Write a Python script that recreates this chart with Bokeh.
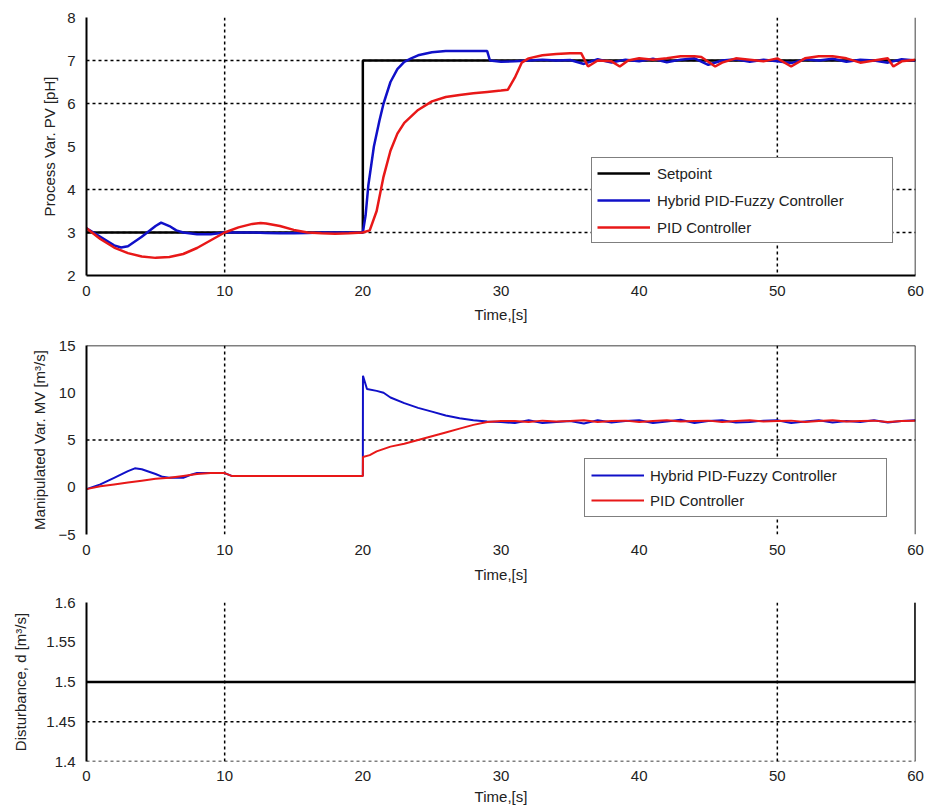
from bokeh.plotting import figure
from bokeh.models import Range1d, Span, Legend, LegendItem, FixedTicker
from bokeh.layouts import column
from bokeh.embed import file_html
from bokeh.resources import INLINE

# ---------------- data ----------------
x_ticks = [0, 10, 20, 30, 40, 50, 60]

# Process variable (pH)
sp_t = [0, 20, 20, 60]
sp_y = [3, 3, 7, 7]

pv_hyb_t = [0, 1, 2, 2.5, 3, 4, 5, 5.4, 6, 6.5, 7, 8, 9, 10, 11, 12, 13, 14, 15, 16, 17, 18, 19, 20,
            20.2, 20.4, 20.8, 21.2, 21.5, 22, 22.5, 23, 23.5, 24, 25, 26, 27, 28, 29, 29.2,
            30, 31, 32, 33, 34, 35, 36, 37, 38, 39, 40, 41, 42, 43, 44, 45, 46, 47, 48, 49, 50,
            51, 52, 53, 54, 55, 56, 57, 58, 59, 60]
pv_hyb_y = [3.1, 2.9, 2.7, 2.65, 2.68, 2.9, 3.15, 3.23, 3.15, 3.05, 3.0, 2.96, 2.96, 3.0, 3.0, 3.0, 2.99, 2.98, 2.98, 2.99, 3.0, 3.0, 3.0, 3.0,
            3.4, 4.1, 5.0, 5.6, 6.0, 6.5, 6.8, 6.97, 7.05, 7.12, 7.19, 7.22, 7.22, 7.22, 7.22, 7.0,
            6.97, 6.98, 7.0, 7.02, 7.0, 7.01, 6.92, 7.03, 6.95, 7.02, 6.98, 7.04, 6.96, 7.02, 7.05, 6.9, 7.0, 7.03, 6.97, 7.02, 6.98,
            6.94, 7.03, 7.0, 7.04, 6.97, 7.02, 7.0, 6.95, 7.03, 7.0]

pv_pid_t = [0, 1, 2, 3, 4, 5, 6, 7, 8, 9, 10, 11, 12, 12.6, 13, 14, 15, 16, 17, 18, 19, 20,
            20.5, 21, 21.5, 22, 22.5, 23, 24, 25, 26, 27, 28, 29, 30, 30.5, 31, 31.5,
            32, 33, 34, 35, 35.8, 36.3, 37, 38, 38.6, 39.2, 40, 41, 42, 43, 44, 44.5, 45.5, 46, 47, 48, 49, 50,
            51, 52, 53, 54, 55, 56, 57, 58, 58.4, 59, 60]
pv_pid_y = [3.1, 2.85, 2.65, 2.52, 2.44, 2.41, 2.43, 2.5, 2.64, 2.82, 3.0, 3.12, 3.2, 3.22, 3.21, 3.15, 3.06, 3.0, 2.98, 2.97, 2.98, 3.0,
            3.05, 3.5, 4.3, 4.9, 5.3, 5.55, 5.85, 6.05, 6.15, 6.2, 6.24, 6.27, 6.3, 6.32, 6.6, 6.95,
            7.05, 7.12, 7.15, 7.17, 7.17, 6.86, 7.0, 6.98, 6.86, 7.0, 7.05, 7.02, 7.05, 7.1, 7.1, 7.08, 6.86, 6.95, 7.05, 7.02, 6.98, 7.05,
            6.86, 7.05, 7.1, 7.1, 7.05, 6.95, 7.0, 7.05, 6.86, 6.98, 7.02]

# Manipulated variable (m^3/s)
mv_hyb_t = [0, 1, 2, 3, 3.5, 4, 5, 5.5, 6, 7, 7.5, 8, 9, 10, 10.5, 11, 12, 14, 16, 18, 20,
            20.01, 20.3, 21, 21.5, 22, 23, 24, 25, 26, 27, 28, 29, 30,
            31, 32, 33, 34, 35, 36, 37, 38, 39, 40, 41, 42, 43, 44, 45, 46, 47, 48, 49, 50,
            51, 52, 53, 54, 55, 56, 57, 58, 59, 60]
mv_hyb_y = [-0.2, 0.3, 1.0, 1.7, 2.0, 1.9, 1.4, 1.1, 1.0, 1.0, 1.3, 1.5, 1.5, 1.5, 1.2, 1.2, 1.2, 1.2, 1.2, 1.2, 1.2,
            11.8, 10.4, 10.2, 10.0, 9.5, 8.9, 8.4, 8.0, 7.6, 7.3, 7.1, 6.95, 6.9,
            6.8, 7.1, 6.8, 6.9, 7.0, 6.75, 7.1, 6.85, 7.0, 7.1, 6.8, 6.95, 7.15, 6.8, 7.0, 7.1, 6.85, 6.9, 7.05, 7.1,
            6.8, 6.95, 7.1, 6.85, 7.0, 6.9, 7.1, 6.85, 7.0, 7.1]

mv_pid_t = [0, 1, 2, 3, 4, 5, 6, 7, 8, 9, 10, 10.5, 11, 12, 14, 16, 18, 20,
            20.01, 20.5, 21, 22, 23, 24, 25, 26, 27, 28, 29, 30,
            31, 32, 33, 34, 35, 36, 37, 38, 39, 40, 41, 42, 43, 44, 45, 46, 47, 48, 49, 50,
            51, 52, 53, 54, 55, 56, 57, 58, 59, 60]
mv_pid_y = [-0.2, 0.1, 0.3, 0.5, 0.7, 0.9, 1.0, 1.2, 1.4, 1.5, 1.5, 1.2, 1.2, 1.2, 1.2, 1.2, 1.2, 1.2,
            3.2, 3.4, 3.8, 4.3, 4.6, 5.0, 5.4, 5.8, 6.2, 6.6, 6.9, 7.0,
            7.0, 6.9, 7.05, 6.95, 7.0, 7.1, 6.9, 7.0, 7.05, 6.9, 7.0, 7.1, 6.95, 7.0, 7.05, 6.9, 7.0, 7.1, 6.95, 7.0,
            7.05, 6.9, 7.0, 7.1, 6.95, 7.0, 7.05, 6.9, 7.0, 7.05]

# Disturbance (m^3/s)
d_t = [0, 60, 60]
d_y = [1.5, 1.5, 1.6]

pv_ticks = [2, 3, 4, 5, 6, 7, 8]
mv_ticks = [-5, 0, 5, 10, 15]
d_ticks = [1.4, 1.45, 1.5, 1.55, 1.6]

BLUE = "#1010c8"
RED = "#e81818"
FONT = "Liberation Sans"
W = 925


def base(height, bt, bb, yr, yticks, ylabel, lstand, tstand, xlstand):
    p = figure(width=W, height=height, x_range=Range1d(0, 60), y_range=Range1d(*yr),
               output_backend="svg", toolbar_location=None,
               min_border_left=86, min_border_right=10, min_border_top=bt, min_border_bottom=bb)
    p.outline_line_color = None
    p.grid.visible = False
    p.xaxis.ticker = FixedTicker(ticks=x_ticks)
    p.yaxis.ticker = FixedTicker(ticks=yticks)
    for ax in (p.xaxis[0], p.yaxis[0]):
        ax.major_tick_line_color = None
        ax.minor_tick_line_color = None
        ax.major_label_text_font = FONT
        ax.major_label_text_font_size = "15px"
        ax.major_label_text_color = "#222222"
        ax.axis_label_text_font = FONT
        ax.axis_label_text_font_size = "15px"
        ax.axis_label_text_font_style = "normal"
        ax.axis_label_text_color = "#222222"
        ax.axis_line_color = "black"
        ax.axis_line_width = 2
    p.xaxis.axis_label = "Time,[s]"
    p.xaxis.major_label_standoff = tstand
    p.xaxis.axis_label_standoff = xlstand
    p.yaxis.axis_label = ylabel
    p.yaxis.major_label_standoff = 5
    p.yaxis.axis_label_standoff = lstand
    # right border
    p.add_layout(Span(location=60, dimension="height", line_color="black", line_width=1.5))
    return p


def grids(p, xs, ys):
    for g in xs:
        p.add_layout(Span(location=g, dimension="height", line_color="black", line_width=1.5,
                          line_dash="3 3", level="underlay"))
    for g in ys:
        p.add_layout(Span(location=g, dimension="width", line_color="black", line_width=1.5,
                          line_dash="3 3", level="underlay"))


# ---------------- top: PV ----------------
p1 = base(329, 17, 54, (2, 8), pv_ticks, "Process Var. PV [pH]", 6, 4, 7)
grids(p1, [10, 50], [3, 4, 6, 7])
r_sp = p1.line(sp_t, sp_y, line_color="black", line_width=2.5)
r_h = p1.line(pv_hyb_t, pv_hyb_y, line_color=BLUE, line_width=2.5)
r_p = p1.line(pv_pid_t, pv_pid_y, line_color=RED, line_width=2.5)
leg1 = Legend(items=[LegendItem(label="Setpoint", renderers=[r_sp]),
                     LegendItem(label="Hybrid PID-Fuzzy Controller", renderers=[r_h]),
                     LegendItem(label="PID Controller", renderers=[r_p])],
              location=(505, 32), orientation="vertical",
              label_text_font=FONT, label_text_font_size="15px", label_text_color="#222222",
              glyph_width=53, glyph_height=20, label_height=20, label_width=230, label_standoff=7,
              spacing=7, padding=5, margin=0,
              border_line_color="black", border_line_width=1.5,
              background_fill_color="white", background_fill_alpha=1)
p1.add_layout(leg1, "center")

# ---------------- middle: MV ----------------
p2 = base(257, 16, 52, (-5, 15), mv_ticks, "Manipulated Var. MV [m³/s]", 7, 4, 8)
p2.xaxis.axis_line_color = None
grids(p2, [10, 50], [5])
p2.add_layout(Span(location=15, dimension="width", line_color="black", line_width=1.5))
m_h = p2.line(mv_hyb_t, mv_hyb_y, line_color=BLUE, line_width=2)
m_p = p2.line(mv_pid_t, mv_pid_y, line_color=RED, line_width=2)
leg2 = Legend(items=[LegendItem(label="Hybrid PID-Fuzzy Controller", renderers=[m_h]),
                     LegendItem(label="PID Controller", renderers=[m_p])],
              location=(498, 17), orientation="vertical",
              label_text_font=FONT, label_text_font_size="15px", label_text_color="#222222",
              glyph_width=53, glyph_height=20, label_height=20, label_width=230, label_standoff=6,
              spacing=5, padding=6, margin=0,
              border_line_color="black", border_line_width=1.5,
              background_fill_color="white", background_fill_alpha=1)
p2.add_layout(leg2, "center")

# ---------------- bottom: disturbance ----------------
p3 = base(225, 16, 50, (1.4, 1.6), d_ticks, "Disturbance, d [m³/s]", 14, 3, 4)
p3.xaxis.axis_line_color = None
grids(p3, [10, 50], [1.4, 1.45])
p3.line(d_t, d_y, line_color="black", line_width=2.5)

layout = column(p1, p2, p3, spacing=0)
open("out.html", "w").write(file_html(layout, INLINE))
